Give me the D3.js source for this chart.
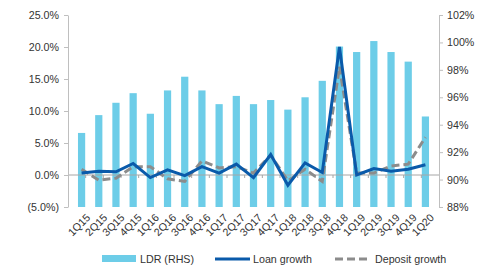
<!doctype html>
<html lang="en">
  <head>
    <meta charset="UTF-8" />
    <title>LDR and growth</title>
    <style>
      body {
        margin: 0;
        background: #fff;
      }
      svg {
        display: block;
        font-family: "Liberation Sans", Arial, sans-serif;
      }
      .axis path,
      .axis line {
        stroke: #bfbfbf;
      }
      .axis text {
        fill: #333;
        font-size: 10.7px;
      }
    </style>
  </head>
  <body>
    <script src="https://d3js.org/d3.v7.min.js"></script>
    <script>
      // quarters
      const quarters = [
        "1Q15", "2Q15", "3Q15", "4Q15", "1Q16", "2Q16", "3Q16", "4Q16",
        "1Q17", "2Q17", "3Q17", "4Q17", "1Q18", "2Q18", "3Q18", "4Q18",
        "1Q19", "2Q19", "3Q19", "4Q19", "1Q20",
      ];
      // LDR, right hand scale (%)
      const ldr = [
        93.4, 94.7, 95.6, 96.3, 94.8, 96.5, 97.5, 96.5, 95.5, 96.1, 95.5,
        95.8, 95.1, 96.0, 97.2, 99.7, 99.3, 100.1, 99.3, 98.6, 94.6,
      ];
      // loan growth, left scale (%)
      const loanGrowth = [
        0.3, 0.6, 0.5, 1.8, -0.4, 0.8, -0.1, 1.3, 0.3, 1.7, -0.4, 3.2,
        -1.6, 1.9, 0.4, 20.0, 0.0, 1.0, 0.6, 0.9, 1.6,
      ];
      // deposit growth, left scale (%)
      const depositGrowth = [
        0.9, -0.8, -0.5, 1.3, 1.3, -0.6, -1.0, 2.2, 1.1, 1.3, 0.3, 3.1,
        -0.9, 0.9, -1.0, 16.9, 0.3, 0.3, 1.4, 1.7, 5.9,
      ];
      const leftTicks = [-5, 0, 5, 10, 15, 20, 25];
      const rightTicks = [88, 90, 92, 94, 96, 98, 100, 102];

      const width = 489;
      const height = 267;
      const margin = { top: 15, right: 50, bottom: 60, left: 68 };
      const plotW = width - margin.left - margin.right;
      const plotH = height - margin.top - margin.bottom;
      const fs = 10.7;

      const svg = d3
        .select("body")
        .append("svg")
        .attr("width", width)
        .attr("height", height);

      const g = svg
        .append("g")
        .attr("transform", `translate(${margin.left},${margin.top})`);

      const x = d3.scaleBand().domain(quarters).range([0, plotW]).padding(0.58);
      const xOuter = d3.scaleBand().domain(quarters).range([0, plotW]);
      const yL = d3.scaleLinear().domain([-5, 25]).range([plotH, 0]);
      const yR = d3.scaleLinear().domain([88, 102]).range([plotH, 0]);

      // bars
      g.selectAll("rect.bar")
        .data(quarters)
        .enter()
        .append("rect")
        .attr("class", "bar")
        .attr("x", (d) => x(d))
        .attr("width", x.bandwidth())
        .attr("y", (d, i) => yR(ldr[i]))
        .attr("height", (d, i) => plotH - yR(ldr[i]))
        .attr("fill", "#6dcde8");

      // zero line with category ticks
      g.append("line")
        .attr("x1", 0)
        .attr("x2", plotW)
        .attr("y1", yL(0))
        .attr("y2", yL(0))
        .attr("stroke", "#a6a6a6");
      g.selectAll("line.ctick")
        .data(quarters.slice(1))
        .enter()
        .append("line")
        .attr("class", "ctick")
        .attr("x1", (d) => xOuter(d))
        .attr("x2", (d) => xOuter(d))
        .attr("y1", yL(0))
        .attr("y2", yL(0) + 3)
        .attr("stroke", "#a6a6a6");

      const cx = (d) => x(d) + x.bandwidth() / 2;

      const growthLine = d3
        .line()
        .x((d, i) => cx(quarters[i]))
        .y((d) => yL(d));

      g.append("path")
        .datum(depositGrowth)
        .attr("fill", "none")
        .attr("stroke", "#8c8c8c")
        .attr("stroke-width", 3)
        .attr("stroke-dasharray", "8,4")
        .attr("d", growthLine);

      g.append("path")
        .datum(loanGrowth)
        .attr("fill", "none")
        .attr("stroke", "#0a5aaa")
        .attr("stroke-width", 3)
        .attr("d", growthLine);

      // axes
      const left = g
        .append("g")
        .attr("class", "axis")
        .call(
          d3
            .axisLeft(yL)
            .tickValues(leftTicks)
            .tickSize(4)
            .tickSizeOuter(0)
            .tickFormat((d) =>
              d < 0 ? `(${Math.abs(d).toFixed(1)}%)` : `${d.toFixed(1)}%`,
            ),
        );
      left.selectAll("text").attr("x", -9);

      const right = g
        .append("g")
        .attr("class", "axis")
        .attr("transform", `translate(${plotW},0)`)
        .call(
          d3
            .axisRight(yR)
            .tickValues(rightTicks)
            .tickSize(4)
            .tickSizeOuter(0)
            .tickFormat((d) => `${d}%`),
        );
      right.selectAll("text").attr("x", 8);

      // category labels
      g.selectAll("text.qlab")
        .data(quarters)
        .enter()
        .append("text")
        .attr("class", "qlab")
        .attr(
          "transform",
          (d) => `translate(${cx(d) + 4},${plotH + 6}) rotate(-45)`,
        )
        .attr("text-anchor", "end")
        .attr("dy", "0.7em")
        .attr("font-size", fs)
        .attr("fill", "#333")
        .text((d) => d);

      // legend
      const leg = svg.append("g").attr("transform", "translate(0,259)");
      leg.append("rect")
        .attr("x", 102)
        .attr("y", -4)
        .attr("width", 34)
        .attr("height", 7)
        .attr("fill", "#6dcde8");
      leg.append("text")
        .attr("x", 140)
        .attr("dy", "0.35em")
        .attr("font-size", fs)
        .attr("fill", "#333")
        .text("LDR (RHS)");
      leg.append("line")
        .attr("x1", 215)
        .attr("x2", 250)
        .attr("stroke", "#0a5aaa")
        .attr("stroke-width", 3);
      leg.append("text")
        .attr("x", 253)
        .attr("dy", "0.35em")
        .attr("font-size", fs)
        .attr("fill", "#333")
        .text("Loan growth");
      leg.append("line")
        .attr("x1", 335)
        .attr("x2", 370)
        .attr("stroke", "#8c8c8c")
        .attr("stroke-width", 3)
        .attr("stroke-dasharray", "8,4");
      leg.append("text")
        .attr("x", 375)
        .attr("dy", "0.35em")
        .attr("font-size", fs)
        .attr("fill", "#333")
        .text("Deposit growth");
    </script>
  </body>
</html>
